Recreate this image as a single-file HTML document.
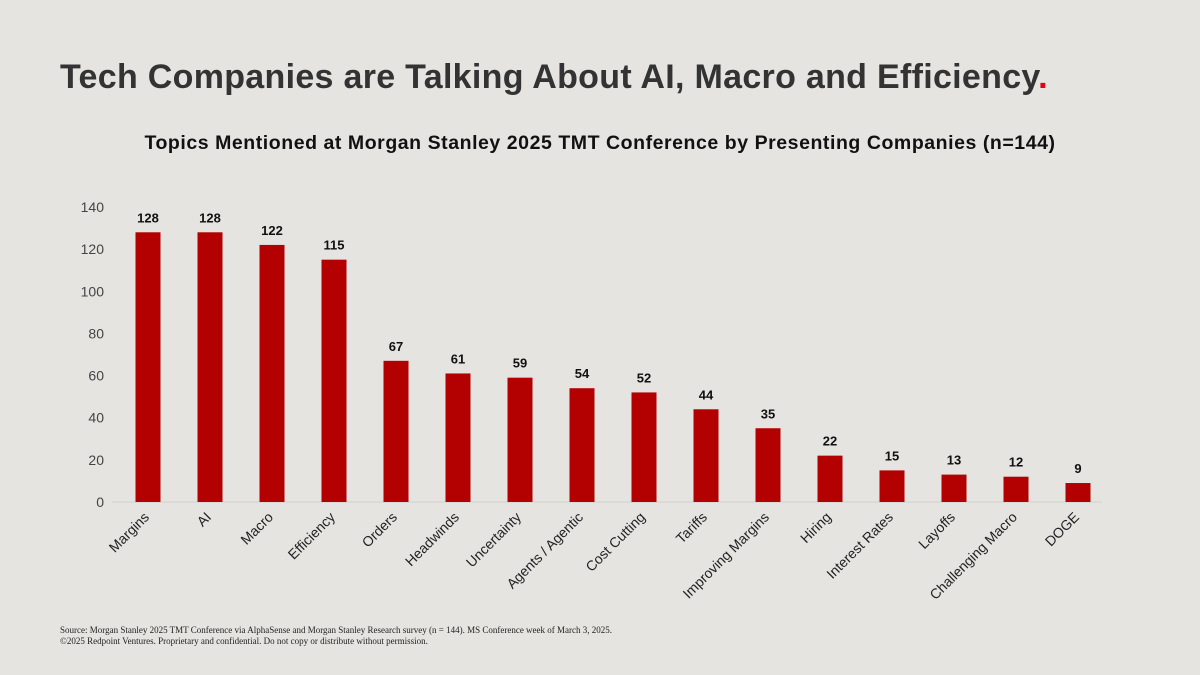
<!DOCTYPE html>
<html><head><meta charset="utf-8"><style>
html,body{margin:0;padding:0;background:#e5e4e1;}
#wrap{position:relative;width:1200px;height:675px;background:#e5e4e1;overflow:hidden;font-family:"Liberation Sans",sans-serif;}
#title{position:absolute;left:60px;top:58px;font-size:34px;font-weight:bold;color:#333;margin:0;letter-spacing:0.3px;}
#title span{color:#e3000f;}
#subtitle{position:absolute;left:0;width:1200px;top:132px;text-align:center;font-size:19.5px;font-weight:bold;color:#111;margin:0;letter-spacing:0.55px;}
#foot{position:absolute;left:60px;top:625px;font-family:"Liberation Serif",serif;font-size:9px;color:#222;line-height:11px;}
svg{position:absolute;left:0;top:0;}
</style></head><body>
<div id="wrap">
<h1 id="title">Tech Companies are Talking About AI, Macro and Efficiency<span>.</span></h1>
<h2 id="subtitle">Topics Mentioned at Morgan Stanley 2025 TMT Conference by Presenting Companies (n=144)</h2>
<svg id="chart" width="1200" height="675"></svg>
<div id="foot">Source: Morgan Stanley 2025 TMT Conference via AlphaSense and Morgan Stanley Research survey (n = 144). MS Conference week of March 3, 2025.<br>©2025 Redpoint Ventures. Proprietary and confidential. Do not copy or distribute without permission.</div>
</div>
<script>
const categories=["Margins","AI","Macro","Efficiency","Orders","Headwinds","Uncertainty","Agents / Agentic","Cost Cutting","Tariffs","Improving Margins","Hiring","Interest Rates","Layoffs","Challenging Macro","DOGE"];
const values=[128,128,122,115,67,61,59,54,52,44,35,22,15,13,12,9];
const yTicks=[0,20,40,60,80,100,120,140];
const NS="http://www.w3.org/2000/svg";
const svg=document.getElementById('chart');
const y0=502,y1=207,yMax=140;
function yScale(v){return y0-(v/yMax)*(y0-y1);}
function xScale(i){return 148+i*62;}
function mk(tag,attrs,txt){const e=document.createElementNS(NS,tag);for(const k in attrs)e.setAttribute(k,attrs[k]);if(txt!==undefined)e.textContent=txt;svg.appendChild(e);return e;}
yTicks.forEach(t=>{
  const e=mk('text',{x:104,y:yScale(t)+5,'text-anchor':'end','font-size':14,fill:'#444','font-family':'Liberation Sans, sans-serif'},t);
  
  
});
const ax=mk('line',{x1:112,x2:1102,y1:y0,y2:y0,stroke:'#d0cfcc','stroke-width':1});


categories.forEach((c,i)=>{
  const cx=xScale(i),v=values[i],bw=25;
  const r=mk('rect',{x:cx-bw/2,y:yScale(v),width:bw,height:y0-yScale(v),fill:'#b30000'});
  
  
  const l=mk('text',{x:cx,y:yScale(v)-10,'text-anchor':'middle','font-size':13,'font-weight':'bold',fill:'#111','font-family':'Liberation Sans, sans-serif'},v);
  
  
  const t=mk('text',{x:0,y:0,'text-anchor':'end','font-size':14,fill:'#222','font-family':'Liberation Sans, sans-serif',transform:`translate(${cx+2},${y0+16}) rotate(-45)`},c);
  
  
});
</script>
</body></html>
